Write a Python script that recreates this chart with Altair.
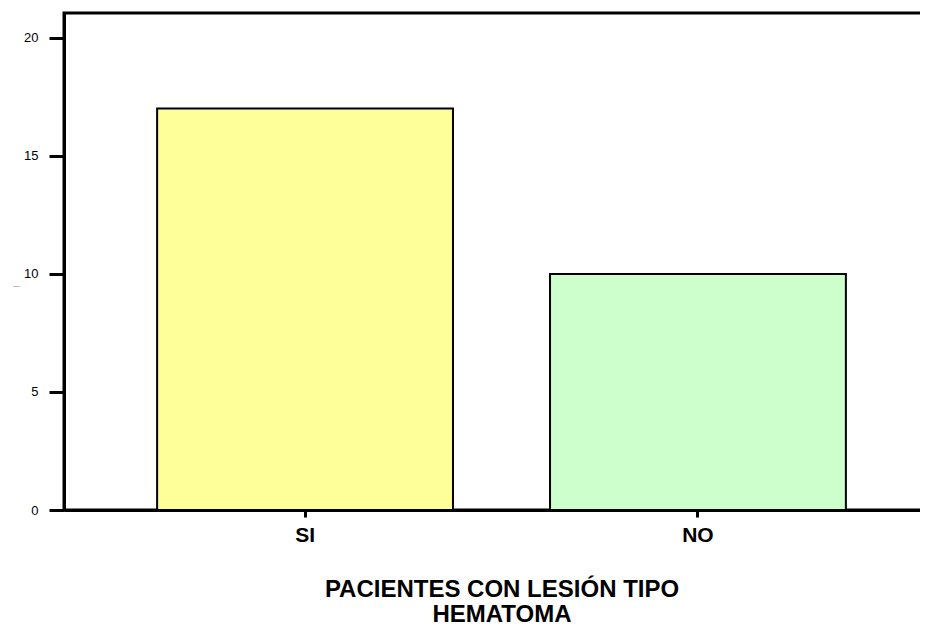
import altair as alt
import pandas as pd

categories = ["SI", "NO"]
counts = [17, 10]
bar_colors = ["#FFFF99", "#CCFFCC"]
y_ticks = [0, 5, 10, 15, 20]
x_title = ["PACIENTES CON LESIÓN TIPO", "HEMATOMA"]

df = pd.DataFrame({"cat": categories, "count": counts})

chart = alt.Chart(df).mark_bar(stroke="black", strokeWidth=2).encode(
    x=alt.X(
        "cat:N",
        sort=categories,
        scale=alt.Scale(paddingInner=0.247, paddingOuter=0.237),
        axis=alt.Axis(
            title=x_title,
            labelAngle=0,
            labelFontSize=21,
            labelFontWeight="bold",
            labelColor="black",
            labelPadding=7,
            tickSize=7,
            tickWidth=3,
            tickColor="black",
            domainWidth=3,
            domainColor="black",
            titleFontSize=24,
            titleFontWeight="bold",
            titleColor="black",
            titlePadding=32,
            titleLineHeight=25,
        ),
    ),
    y=alt.Y(
        "count:Q",
        scale=alt.Scale(domain=[0, 21.05], nice=False),
        axis=alt.Axis(
            values=y_ticks,
            title="|",
            titleFontSize=7,
            titleFontWeight="normal",
            titleColor="#999999",
            titleX=-46,
            titleY=273,
            grid=False,
            labelFontSize=13,
            labelColor="black",
            labelPadding=11,
            tickSize=15,
            tickWidth=3,
            tickColor="black",
            domainWidth=3,
            domainColor="black",
        ),
    ),
    color=alt.Color("cat:N", scale=alt.Scale(domain=categories, range=bar_colors), legend=None),
).properties(
    width=875,
    height=497,
    autosize=alt.AutoSizeParams(type="none"),
    padding={"left": 56, "top": 5, "right": -19, "bottom": 117},
).configure(font="Liberation Sans").configure_view(stroke="black", strokeWidth=3)

chart.save("out.html", embed_options={"renderer": "svg", "actions": False})
